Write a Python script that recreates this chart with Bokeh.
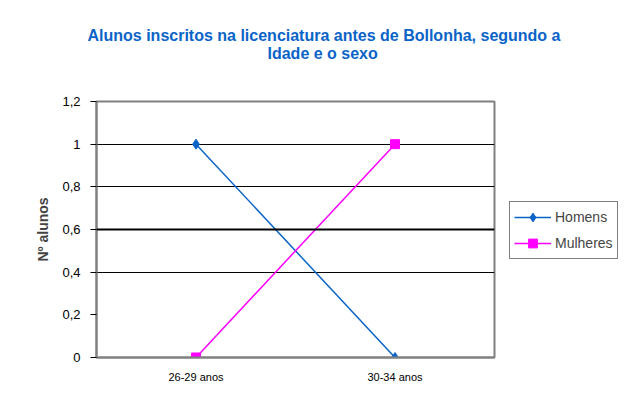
from bokeh.plotting import figure
from bokeh.models import FixedTicker, Span, Title, Legend, LegendItem, Range1d, FactorRange
from bokeh.embed import file_html
from bokeh.resources import INLINE

categories = ["26-29 anos", "30-34 anos"]
homens = [1, 0]
mulheres = [0, 1]
y_ticks = [0, 0.2, 0.4, 0.6, 0.8, 1.0, 1.2]
y_tick_labels = ["0", "0,2", "0,4", "0,6", "0,8", "1", "1,2"]
title_lines = ["Alunos inscritos na licenciatura antes de Bollonha, segundo a", "Idade e o sexo"]

p = figure(frame_width=398, frame_height=256, x_range=FactorRange(*categories, range_padding=0),
           y_range=Range1d(0, 1.2), output_backend="svg", toolbar_location=None,
           min_border_left=96, min_border_right=128, min_border_top=101, min_border_bottom=47)
p.title.text = ""
p.title.visible = False
p.background_fill_color = "white"
p.border_fill_color = "white"
p.outline_line_color = "#808080"
p.outline_line_width = 2

# y axis
p.yaxis.ticker = FixedTicker(ticks=y_ticks)
p.yaxis.major_label_overrides = {t: l for t, l in zip(y_ticks, y_tick_labels)}
p.yaxis.major_tick_out = 6
p.yaxis.major_tick_in = 0
p.yaxis.minor_tick_out = 0
p.yaxis.minor_tick_in = 0
p.yaxis.axis_line_color = "#808080"
p.yaxis.axis_line_width = 2
p.yaxis.major_tick_line_color = "black"
p.yaxis.major_label_text_font = "Liberation Sans"
p.yaxis.major_label_text_font_size = "13px"
p.yaxis.major_label_text_color = "black"
p.yaxis.major_label_standoff = 10
p.yaxis.axis_label = "Nº alunos"
p.yaxis.axis_label_text_font = "Liberation Sans"
p.yaxis.axis_label_text_font_style = "bold"
p.yaxis.axis_label_text_font_size = "14px"
p.yaxis.axis_label_standoff = 8

# x axis
p.xaxis.axis_line_color = "#808080"
p.xaxis.axis_line_width = 2
p.xaxis.major_tick_out = 0
p.xaxis.major_tick_in = 0
p.xaxis.major_label_text_font = "Liberation Sans"
p.xaxis.major_label_text_font_size = "11px"
p.xaxis.major_label_text_color = "black"
p.xaxis.major_label_standoff = 13

# grid
p.xgrid.visible = False
p.ygrid.ticker = FixedTicker(ticks=[0.4, 0.8, 1.0])
p.ygrid.grid_line_color = "black"
p.ygrid.grid_line_width = 1
p.add_layout(Span(location=0.6, dimension="width", line_color="black", line_width=2))

# series
blue = "#0A64C8"
mag = "#FF00FF"
l1 = p.line(categories, homens, line_color=blue, line_width=1.5)
s1 = p.scatter(categories, homens, marker="diamond", size=10, fill_color=blue, line_color=blue)
l2 = p.line(categories, mulheres, line_color=mag, line_width=1.5)
s2 = p.scatter(categories, mulheres, marker="square", size=9, fill_color=mag, line_color=mag)

legend = Legend(items=[LegendItem(label="Homens", renderers=[l1, s1]),
                       LegendItem(label="Mulheres", renderers=[l2, s2])],
                location=(15, 98), border_line_color="black", border_line_width=1,
                label_text_font="Liberation Sans", label_text_font_size="14px",
                glyph_width=37, glyph_height=22, label_height=22, spacing=4,
                padding=4, margin=0, label_standoff=4, background_fill_alpha=1)
p.add_layout(legend, "right")

# title (two lines, first added sits closest to the plot)
p.add_layout(Title(text=title_lines[1], align="left", offset=171, standoff=80,
                   text_font="Liberation Sans", text_font_style="bold", text_font_size="16px",
                   text_color=blue), "above")
p.add_layout(Title(text=title_lines[0], align="left", offset=-9, standoff=-83,
                   text_font="Liberation Sans", text_font_style="bold", text_font_size="16px",
                   text_color=blue), "above")

open("out.html", "w").write(file_html(p, INLINE))
